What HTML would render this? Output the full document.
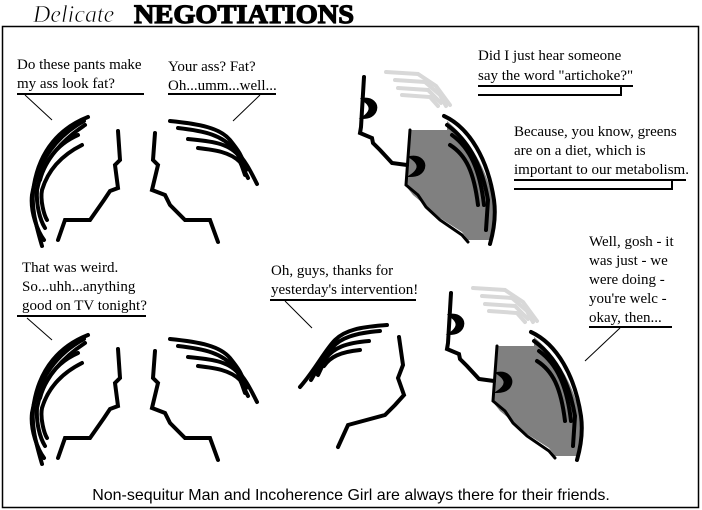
<!DOCTYPE html>
<html><head><style>
html,body{margin:0;padding:0;background:#fff;}
svg{display:block;}
.t{font-family:"Liberation Serif",serif;font-size:15px;fill:#000;}
</style></head><body>
<svg width="702" height="510" viewBox="0 0 702 510" xmlns="http://www.w3.org/2000/svg">
<rect x="0" y="0" width="702" height="510" fill="#fff"/>
<rect x="2.5" y="26.5" width="696" height="481" fill="none" stroke="#000" stroke-width="1.5"/>
<text x="33" y="22" font-family="Liberation Serif,serif" font-style="italic" font-size="24" fill="#000" stroke="#fff" stroke-width="0.6">Delicate</text>
<text x="134" y="23" font-family="Liberation Serif,serif" font-weight="bold" font-size="26" fill="#000" stroke="#000" stroke-width="1.2" textLength="220" lengthAdjust="spacingAndGlyphs">NEGOTIATIONS</text>

<defs>
<g id="leftfig" fill="none" stroke="#000" stroke-width="4" stroke-linecap="round">
  <path d="M88,117 C60,128 40,150 34,185 C30,205 36,225 42,246"/>
  <path d="M84,121 C58,135 38,160 32,195 C30,212 38,232 44,240"/>
  <path d="M78,135 C55,145 42,165 37,190 C36,205 40,220 45,228"/>
  <path d="M82,145 C62,155 48,170 42,190 C40,200 44,215 47,220"/>
  <path d="M85,125 C62,140 45,160 40,180"/>
  <path d="M118,131 L120,160 L115,165 L118,188 L110,191 L104,200 L90,220 L65,220 L58,240"/>
</g>
<g id="rightfig" fill="none" stroke="#000" stroke-width="4" stroke-linecap="round">
  <path d="M170,121 C200,124 220,128 230,140 C238,150 242,155 246,170"/>
  <path d="M178,128 C205,131 222,135 235,150 C245,160 250,170 257,184"/>
  <path d="M188,139 C210,141 228,143 238,155 L245,175"/>
  <path d="M198,148 C215,150 230,152 240,162 L248,178"/>
  <path d="M155,133 L153,160 L158,165 L152,190 L165,195 L170,205 L185,220 L210,220 L218,242"/>
</g>
<g id="char">
  <g fill="none" stroke="#d8d8d8" stroke-width="4" stroke-linecap="round">
    <path d="M386,72 L418,74 L436,86 L450,105"/>
    <path d="M395,80 L425,82 L440,95 L446,106"/>
    <path d="M398,88 L428,90 L441,103"/>
    <path d="M402,95 L430,97 L438,106"/>
  </g>
  <path d="M410,130 L447,130 L447,121 C470,140 488,170 494,205 L492,240 L468,240 L462,232 L440,218 L425,205 L413,195 L405,185 L408,165 Z" fill="#808080"/>
  <g fill="none" stroke="#000" stroke-width="4" stroke-linecap="round">
    <path d="M444,116 C470,128 488,160 494,200 C496,215 494,230 490,244"/>
    <path d="M447,125 C468,140 482,165 488,200 L486,230"/>
    <path d="M452,135 C470,148 480,170 484,205"/>
    <path d="M450,145 C466,155 474,172 478,205"/>
    <path d="M364,77 L361,127 L360,133 L372,138 L373,143 L380,150 L392,163 L407,165"/>
    <path d="M410,130 L406,185 L418,195 L426,207 L440,220 L462,235 L468,242" stroke-width="3"/>
  </g>
  <path d="M362,99 C372,97 378,104 376,110 C374,116 368,118 362,118 C368,114 371,110 369,106 C367,102 364,101 362,99 Z" fill="#000" stroke="#000" stroke-width="2"/>
  <path d="M410,157 C420,155 426,162 424,168 C422,174 416,176 410,176 C416,172 419,168 417,164 C415,160 412,159 410,157 Z" fill="#000" stroke="#000" stroke-width="2"/>
</g>
</defs>

<use href="#leftfig"/>
<use href="#rightfig"/>
<use href="#leftfig" transform="translate(0,218)"/>
<use href="#rightfig" transform="translate(0,218)"/>
<use href="#char"/>
<use href="#char" transform="translate(87,216)"/>

<g fill="none" stroke="#000" stroke-width="4" stroke-linecap="round">
  <path d="M387,325 C360,327 345,330 335,340 C325,350 315,370 300,387"/>
  <path d="M380,331 C355,333 340,338 332,348 C322,360 314,375 311,380"/>
  <path d="M369,341 C345,343 334,348 326,358 L318,375"/>
  <path d="M360,350 C340,352 330,357 324,366"/>
  <path d="M399,337 L403,365 L398,378 L404,395 L395,405 L385,415 L348,425 L338,447"/>
</g>

<g stroke="#000" fill="none">
  <line x1="17" y1="94" x2="144" y2="94" stroke-width="2"/>
  <line x1="25" y1="95" x2="52" y2="120" stroke-width="1"/>
  <line x1="168" y1="94" x2="276" y2="94" stroke-width="2"/>
  <line x1="260" y1="95" x2="233" y2="121" stroke-width="1"/>
  <line x1="478" y1="86" x2="633" y2="86" stroke-width="2"/>
  <polyline points="478,95 621,95 621,87" stroke-width="2"/>
  <line x1="514" y1="180" x2="686" y2="180" stroke-width="2"/>
  <polyline points="514,189 672,189 672,181" stroke-width="2"/>
  <line x1="17" y1="316" x2="146" y2="316" stroke-width="2"/>
  <line x1="27" y1="318" x2="52" y2="340" stroke-width="1"/>
  <line x1="270" y1="300" x2="416" y2="300" stroke-width="2"/>
  <line x1="285" y1="301" x2="312" y2="328" stroke-width="1"/>
  <line x1="589" y1="327" x2="672" y2="327" stroke-width="2"/>
  <line x1="620" y1="328" x2="585" y2="361" stroke-width="1"/>
</g>

<text class="t" x="17" y="69">Do these pants make</text>
<text class="t" x="17" y="88">my ass look fat?</text>
<text class="t" x="168" y="71">Your ass? Fat?</text>
<text class="t" x="168" y="90">Oh...umm...well...</text>
<text class="t" x="478" y="60">Did I just hear someone</text>
<text class="t" x="478" y="80">say the word "artichoke?"</text>
<text class="t" x="514" y="136">Because, you know, greens</text>
<text class="t" x="514" y="155">are on a diet, which is</text>
<text class="t" x="514" y="174">important to our metabolism.</text>
<text class="t" x="22" y="272">That was weird.</text>
<text class="t" x="22" y="291">So...uhh...anything</text>
<text class="t" x="22" y="310">good on TV tonight?</text>
<text class="t" x="271" y="275">Oh, guys, thanks for</text>
<text class="t" x="271" y="294">yesterday's intervention!</text>
<text class="t" x="589" y="246">Well, gosh - it</text>
<text class="t" x="589" y="265">was just - we</text>
<text class="t" x="589" y="284">were doing -</text>
<text class="t" x="589" y="303">you're welc -</text>
<text class="t" x="589" y="322">okay, then...</text>

<text x="351" y="500" text-anchor="middle" font-family="Liberation Sans,sans-serif" font-size="16" fill="#000">Non-sequitur Man and Incoherence Girl are always there for their friends.</text>
</svg>
</body></html>
